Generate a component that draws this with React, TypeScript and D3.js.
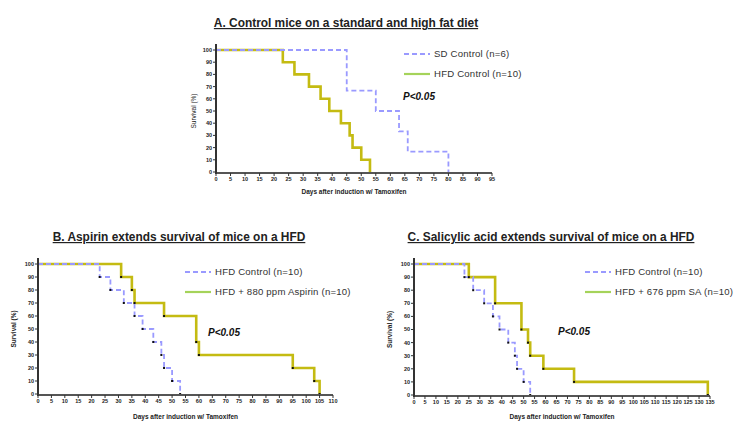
import * as d3 from "d3";
import React from "react";

// Panel A – control mice
const aSdTimes = [0, 45, 55, 63, 66, 80];
const aSdSurv = [100, 66.7, 50, 33.3, 16.7, 0];
const aHfdTimes = [0, 23, 27, 32, 36, 39, 43, 46, 47, 50, 53];
const aHfdSurv = [100, 90, 80, 70, 60, 50, 40, 30, 20, 10, 0];

// Panel B – aspirin
const bCtlTimes = [0, 23, 27, 32, 36, 39, 43, 46, 47, 50, 53];
const bCtlSurv = [100, 90, 80, 70, 60, 50, 40, 30, 20, 10, 0];
const bAspTimes = [0, 31, 35, 36, 47, 59, 60, 95, 103, 105];
const bAspSurv = [100, 90, 80, 70, 60, 40, 30, 20, 10, 0];

// Panel C – salicylic acid
const cCtlTimes = [0, 23, 27, 32, 36, 39, 43, 46, 47, 50, 53];
const cCtlSurv = [100, 90, 80, 70, 60, 50, 40, 30, 20, 10, 0];
const cSaTimes = [0, 25, 37, 49, 52, 53, 59, 73, 134];
const cSaSurv = [100, 90, 70, 50, 40, 30, 20, 10, 0];

const yTicks = [0, 10, 20, 30, 40, 50, 60, 70, 80, 90, 100];

const BLUE = "#9a9aff";
const OLIVE = "#c4bb12";
const LEGEND_GREEN = "#a5d35a";
const FONT = "Liberation Sans, Arial, sans-serif";

type Series = { times: number[]; surv: number[] };

interface PanelProps {
  title: string;
  x0: number; // pixel left
  x1: number; // pixel right
  y0: number; // pixel of 100
  y1: number; // pixel of 0
  maxDay: number;
  dashed: Series;
  solid: Series;
  dashedLabel: string;
  solidLabel: string;
  titleX: number;
  titleY: number;
  legendX: number;
  legendY: number;
  pX: number;
  pY: number;
  yLabelX: number;
  xLabelY: number;
  boldYLabel: boolean;
  dots: boolean;
}

const Panel: React.FC<PanelProps> = (p) => {
  const x = d3.scaleLinear().domain([0, p.maxDay]).range([p.x0, p.x1]);
  const y = d3.scaleLinear().domain([0, 100]).range([p.y1, p.y0]);
  const line = d3
    .line<[number, number]>()
    .x((d) => x(d[0]))
    .y((d) => y(d[1]))
    .curve(d3.curveStepAfter);
  const pts = (s: Series) => s.times.map((t, i) => [t, s.surv[i]] as [number, number]);
  const xTicks = d3.range(0, p.maxDay + 1, 5);

  return (
    <g fontFamily={FONT}>
      <text
        x={p.titleX}
        y={p.titleY}
        textAnchor="middle"
        fontSize={11.9}
        fontWeight="bold"
        textDecoration="underline"
        fill="#222"
      >
        {p.title}
      </text>

      {/* lines */}
      <path d={line(pts(p.solid)) ?? ""} fill="none" stroke={OLIVE} strokeWidth={2.6} />
      <path
        d={line(pts(p.dashed)) ?? ""}
        fill="none"
        stroke={BLUE}
        strokeWidth={1.8}
        strokeDasharray="5,3"
      />
      {p.dots &&
        [p.dashed, p.solid].map((s, k) =>
          s.times.slice(1).map((t, i) => (
            <rect
              key={`${k}-${i}`}
              x={x(t) - 1}
              y={y(s.surv[i + 1]) - 1}
              width={2}
              height={2}
              fill="#111"
            />
          ))
        )}

      {/* axes */}
      <line x1={p.x0} x2={p.x1} y1={p.y1 + 1} y2={p.y1 + 1} stroke="#555" strokeWidth={2} />
      <line x1={p.x0} x2={p.x0} y1={p.y0 - 6} y2={p.y1 + 2} stroke="#333" strokeWidth={2} />
      {yTicks.map((v) => (
        <g key={v}>
          <line x1={p.x0 - 3} x2={p.x0} y1={y(v)} y2={y(v)} stroke="#333" strokeWidth={1} />
          <text
            x={p.x0 - 4}
            y={y(v)}
            dy="0.35em"
            textAnchor="end"
            fontSize={5.5}
            fontWeight="bold"
            fill="#222"
          >
            {v}
          </text>
        </g>
      ))}
      {xTicks.map((v) => (
        <g key={v}>
          <line x1={x(v)} x2={x(v)} y1={p.y1 + 1} y2={p.y1 + 4} stroke="#333" strokeWidth={1} />
          <text
            x={x(v)}
            y={p.y1 + 9}
            textAnchor="middle"
            fontSize={5.5}
            fontWeight="bold"
            fill="#222"
          >
            {v}
          </text>
        </g>
      ))}
      <text
        x={(p.x0 + p.x1) / 2}
        y={p.xLabelY}
        textAnchor="middle"
        fontSize={6.5}
        fontWeight="bold"
        fill="#222"
      >
        Days after induction w/ Tamoxifen
      </text>
      <text
        transform={`translate(${p.yLabelX},${(p.y0 + p.y1) / 2}) rotate(-90)`}
        textAnchor="middle"
        fontSize={6.5}
        fontWeight={p.boldYLabel ? "bold" : "normal"}
        fill="#222"
      >
        Survival (%)
      </text>

      {/* legend */}
      <line
        x1={p.legendX}
        x2={p.legendX + 26}
        y1={p.legendY}
        y2={p.legendY}
        stroke={BLUE}
        strokeWidth={1.8}
        strokeDasharray="5,3"
      />
      <text x={p.legendX + 30} y={p.legendY} dy="0.35em" fontSize={9.6} fill="#333" letterSpacing={0.2}>
        {p.dashedLabel}
      </text>
      <line
        x1={p.legendX}
        x2={p.legendX + 26}
        y1={p.legendY + 20}
        y2={p.legendY + 20}
        stroke={LEGEND_GREEN}
        strokeWidth={2.2}
      />
      <text x={p.legendX + 30} y={p.legendY + 20} dy="0.35em" fontSize={9.6} fill="#333" letterSpacing={0.2}>
        {p.solidLabel}
      </text>

      <text
        x={p.pX}
        y={p.pY}
        dy="0.35em"
        fontSize={10}
        fontWeight="bold"
        fontStyle="italic"
        fill="#111"
      >
        P&lt;0.05
      </text>
    </g>
  );
};

const App: React.FC = () => {
  return (
    <svg
      width={737}
      height={421}
      style={{ position: "absolute", left: 0, top: 0, background: "#fff" }}
    >
      <rect width={737} height={421} fill="#fff" />
      <Panel
        title="A. Control mice on a standard and high fat diet"
        x0={216}
        x1={492}
        y0={50}
        y1={172}
        maxDay={95}
        dashed={{ times: aSdTimes, surv: aSdSurv }}
        solid={{ times: aHfdTimes, surv: aHfdSurv }}
        dashedLabel="SD Control (n=6)"
        solidLabel="HFD Control (n=10)"
        titleX={346}
        titleY={27}
        legendX={404}
        legendY={54}
        pX={403}
        pY={96}
        yLabelX={196}
        xLabelY={194}
        boldYLabel={false}
        dots={false}
      />
      <Panel
        title="B. Aspirin extends survival of mice on a HFD"
        x0={38}
        x1={333}
        y0={264}
        y1={394}
        maxDay={110}
        dashed={{ times: bCtlTimes, surv: bCtlSurv }}
        solid={{ times: bAspTimes, surv: bAspSurv }}
        dashedLabel="HFD Control (n=10)"
        solidLabel="HFD + 880 ppm Aspirin (n=10)"
        titleX={179}
        titleY={241}
        legendX={185}
        legendY={272}
        pX={208}
        pY={332}
        yLabelX={16}
        xLabelY={419}
        boldYLabel={true}
        dots={true}
      />
      <Panel
        title="C. Salicylic acid extends survival of mice on a HFD"
        x0={414}
        x1={710}
        y0={264}
        y1={395}
        maxDay={135}
        dashed={{ times: cCtlTimes, surv: cCtlSurv }}
        solid={{ times: cSaTimes, surv: cSaSurv }}
        dashedLabel="HFD Control (n=10)"
        solidLabel="HFD + 676 ppm SA (n=10)"
        titleX={551}
        titleY={241}
        legendX={585}
        legendY={272}
        pX={558}
        pY={331}
        yLabelX={392}
        xLabelY={419}
        boldYLabel={true}
        dots={true}
      />
    </svg>
  );
};

export default App;
